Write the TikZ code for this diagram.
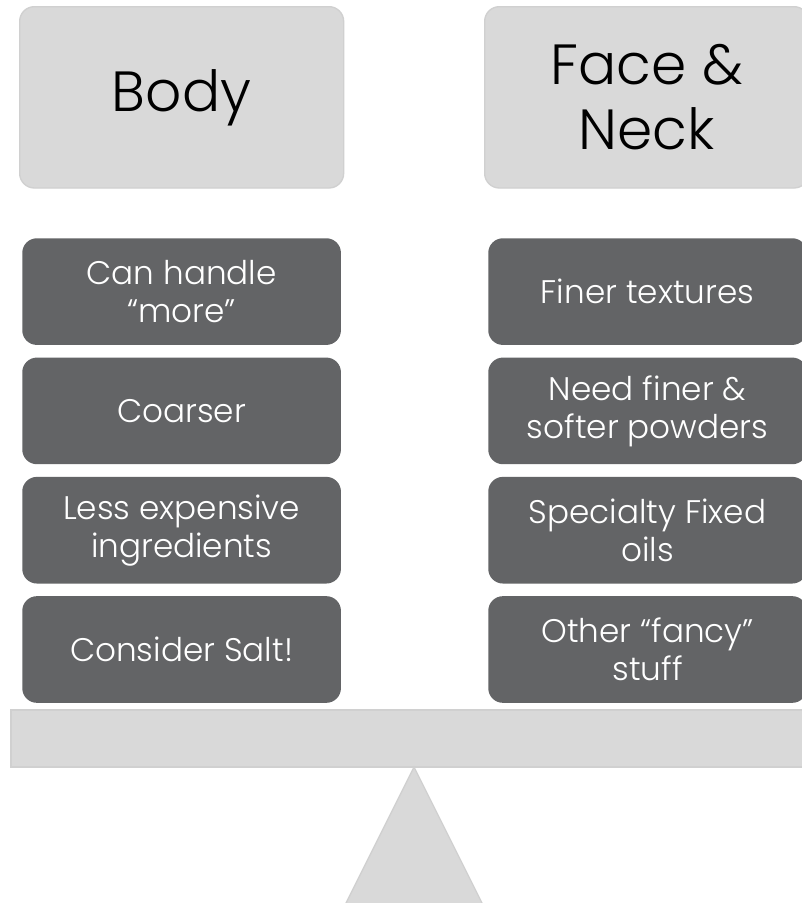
\documentclass[tikz,border=0pt]{standalone}
\usepackage{fontspec}
\setmainfont{Poppins}[UprightFont=* Light]
\usetikzlibrary{positioning}
\definecolor{clight}{HTML}{D9D9D9}
\definecolor{cline}{HTML}{D0D0D0}
\definecolor{cdark}{HTML}{636466}
\tikzset{
  every picture/.style={x=0.75pt, y=-0.75pt},
  head/.style={fill=clight, draw=cline, line width=1pt, rounded corners=11pt, anchor=north west, inner sep=0pt,
    minimum width=243pt, minimum height=136pt, align=center, font=\fontsize{42.5}{48.75}\selectfont},
  item/.style={fill=cdark, rounded corners=11pt, anchor=north west, inner sep=0pt, text=white,
    minimum width=239pt, minimum height=80pt, align=center, font=\fontsize{24.5}{28.5}\selectfont},
  plank/.style={fill=clight, draw=cline, line width=1pt},
}
\begin{document}
\begin{tikzpicture}
  \clip (0,0) rectangle (802,903);
  \fill[white] (0,0) rectangle (802,903);
  % the two sides
  \node[head] (body) at (19,6) {Body};
  \node[head] (face) at (484,6) {Face \&\\Neck};
  \foreach \t [count=\i] in {{Can handle\\“more”}, Coarser, {Less expensive\\ingredients}, Consider Salt!}
    {\node[item] (b\i) at (22,{238+119.3*(\i-1)}) {\t};}
  \foreach \t [count=\i] in {Finer textures, {Need finer \&\\softer powders}, {Specialty Fixed\\oils}, {Other “fancy”\\stuff}}
    {\node[item] (f\i) at (488,{238+119.3*(\i-1)}) {\t};}
  % the scale
  \draw[plank] (11,710) rectangle (815,767);
  \draw[plank] (414,767) -- (340,915) -- (488,915) -- cycle;
\end{tikzpicture}
\end{document}
